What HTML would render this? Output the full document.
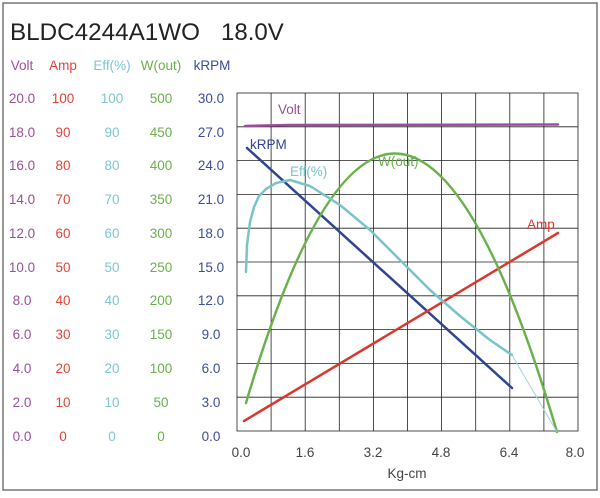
<!DOCTYPE html>
<html><head><meta charset="utf-8"><style>
body{margin:0;background:#fff}
</style></head><body>
<svg width="600" height="493" xmlns="http://www.w3.org/2000/svg" font-family="Liberation Sans, sans-serif">
<rect x="0" y="0" width="600" height="493" fill="#fff"/>
<rect x="3" y="3" width="594" height="487" fill="none" stroke="#777" stroke-width="1.5"/>
<text x="10" y="40" font-size="24" fill="#222" textLength="190" lengthAdjust="spacingAndGlyphs">BLDC4244A1WO</text>
<text x="221" y="40" font-size="24" fill="#222">18.0V</text>
<g font-size="13.5">
<text x="22" y="70" fill="#9a4f9a" text-anchor="middle">Volt</text>
<text x="63" y="70" fill="#e0443a" text-anchor="middle">Amp</text>
<text x="112" y="70" fill="#7cc8cc" text-anchor="middle">Eff(%)</text>
<text x="161" y="70" fill="#6ab04c" text-anchor="middle">W(out)</text>
<text x="212" y="70" fill="#3a4f9a" text-anchor="middle">kRPM</text>
</g>
<g stroke="#222" stroke-width="0.8" fill="none">
<rect x="237" y="93" width="341" height="338"/>
<path d="M271.1 93V431M305.2 93V431M339.3 93V431M373.4 93V431M407.5 93V431M441.6 93V431M475.7 93V431M509.8 93V431M543.9 93V431"/>
<path d="M237 126.8H578M237 160.6H578M237 194.4H578M237 228.2H578M237 262H578M237 295.8H578M237 329.6H578M237 363.4H578M237 397.2H578"/>
</g>
<g font-size="13.5" text-anchor="middle">
<g fill="#9a4f9a">
<text x="22" y="103">20.0</text><text x="22" y="137">18.0</text><text x="22" y="170">16.0</text><text x="22" y="204">14.0</text><text x="22" y="238">12.0</text><text x="22" y="272">10.0</text><text x="22" y="305">8.0</text><text x="22" y="339">6.0</text><text x="22" y="373">4.0</text><text x="22" y="407">2.0</text><text x="22" y="441">0.0</text></g>
<g fill="#e0443a">
<text x="63" y="103">100</text><text x="63" y="137">90</text><text x="63" y="170">80</text><text x="63" y="204">70</text><text x="63" y="238">60</text><text x="63" y="272">50</text><text x="63" y="305">40</text><text x="63" y="339">30</text><text x="63" y="373">20</text><text x="63" y="407">10</text><text x="63" y="441">0</text></g>
<g fill="#7cc8cc">
<text x="112" y="103">100</text><text x="112" y="137">90</text><text x="112" y="170">80</text><text x="112" y="204">70</text><text x="112" y="238">60</text><text x="112" y="272">50</text><text x="112" y="305">40</text><text x="112" y="339">30</text><text x="112" y="373">20</text><text x="112" y="407">10</text><text x="112" y="441">0</text></g>
<g fill="#6ab04c">
<text x="161" y="103">500</text><text x="161" y="137">450</text><text x="161" y="170">400</text><text x="161" y="204">350</text><text x="161" y="238">300</text><text x="161" y="272">250</text><text x="161" y="305">200</text><text x="161" y="339">150</text><text x="161" y="373">100</text><text x="161" y="407">50</text><text x="161" y="441">0</text></g>
<g fill="#3a4f9a">
<text x="211" y="103">30.0</text><text x="211" y="137">27.0</text><text x="211" y="170">24.0</text><text x="211" y="204">21.0</text><text x="211" y="238">18.0</text><text x="211" y="272">15.0</text><text x="211" y="305">12.0</text><text x="211" y="339">9.0</text><text x="211" y="373">6.0</text><text x="211" y="407">3.0</text><text x="211" y="441">0.0</text></g>
<g fill="#444">
<text x="241" y="457">0.0</text><text x="305" y="457">1.6</text><text x="373" y="457">3.2</text><text x="441" y="457">4.8</text><text x="509" y="457">6.4</text><text x="575" y="457">8.0</text>
<text x="407" y="478">Kg-cm</text></g>
</g>
<g fill="none" stroke-linecap="round" stroke-linejoin="round">
<path d="M245 126 L290 125 L558 124.5" stroke="#9a4f9a" stroke-width="2.5"/>
<path d="M247 148 L512 388" stroke="#2e4590" stroke-width="2.5"/>
<path d="M244 421 L558 233" stroke="#d9382e" stroke-width="2.5"/>
<path d="M246 403 Q397 -110 557 432" stroke="#6ab04c" stroke-width="2.5"/>
<path d="M246 272 L247 245 L250 222 L254 207 L259 196 L266 189 L276 183 L290 180 L310 186 L340 205 L370 230 L400 260 L430 290 L460 316 L490 340 L512 355" stroke="#78c4c8" stroke-width="2.5"/>
<path d="M512 355 L557 432" stroke="#9fd6d9" stroke-width="1"/>
</g>
<g font-size="13.5">
<text x="278" y="114" fill="#9a4f9a">Volt</text>
<text x="250" y="149" fill="#2e4590">kRPM</text>
<text x="290" y="176" fill="#78c4c8">Eff(%)</text>
<text x="378" y="166" fill="#6ab04c">W(out)</text>
<text x="527" y="229" fill="#d9382e">Amp</text>
</g>
</svg>
</body></html>
